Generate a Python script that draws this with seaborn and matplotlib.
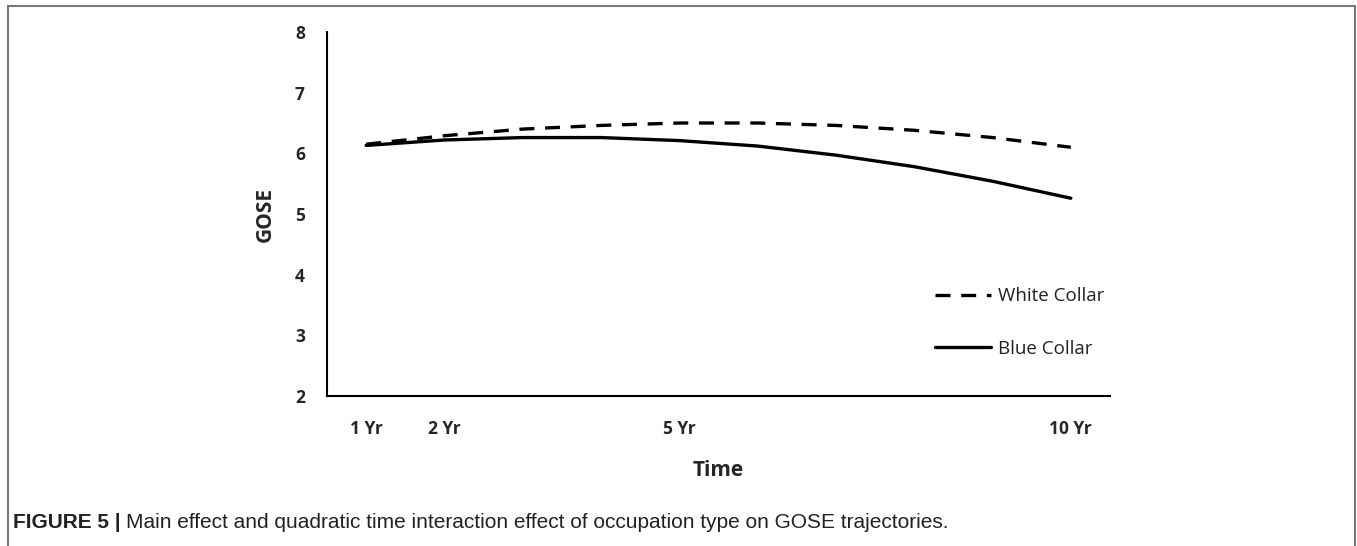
import numpy as np
import pandas as pd
import matplotlib
matplotlib.use("Agg")
import matplotlib.pyplot as plt
from matplotlib.patches import Rectangle
import seaborn as sns

# values
years = [1, 2, 3, 4, 5, 6, 7, 8, 9, 10]
white_collar = [6.15, 6.29, 6.40, 6.46, 6.50, 6.50, 6.46, 6.38, 6.26, 6.10]
blue_collar = [6.13, 6.22, 6.26, 6.26, 6.21, 6.12, 5.97, 5.78, 5.54, 5.26]
tick_years = [1, 2, 5, 10]
tick_labels = ["1 Yr", "2 Yr", "5 Yr", "10 Yr"]
groups = ["White Collar", "Blue Collar"]
caption_head = "FIGURE 5 |"
caption_body = "Main effect and quadratic time interaction effect of occupation type on GOSE trajectories."


def main():
    df = pd.DataFrame({
        "Time": years * 2,
        "GOSE": white_collar + blue_collar,
        "Group": [groups[0]] * len(years) + [groups[1]] * len(years),
    })

    sns.set_theme(style="white")
    plt.rcParams["font.family"] = ["Open Sans", "DejaVu Sans"]

    fig = plt.figure(figsize=(13.57, 5.46), dpi=100)
    ax = fig.add_axes([327 / 1357, 1 - 396 / 546, (1110 - 327) / 1357, (396 - 32) / 546])

    sns.lineplot(data=df, x="Time", y="GOSE", hue="Group", style="Group",
                 palette={groups[0]: "black", groups[1]: "black"},
                 dashes={groups[0]: (4.5, 3.2), groups[1]: ""},
                 linewidth=2.4, ax=ax, legend=True)

    ax.set_xlim(0.5, 10.5)
    ax.set_ylim(2, 8)
    ax.set_xticks(tick_years)
    ax.set_xticklabels(tick_labels, fontsize=12.5, fontweight="bold")
    ax.set_yticks(range(2, 9))
    ax.set_yticklabels([str(v) for v in range(2, 9)], fontsize=12.5, fontweight="bold")
    ax.tick_params(axis="both", length=0)
    ax.tick_params(axis="x", pad=17)
    ax.tick_params(axis="y", pad=16)
    ax.set_xlabel("Time", fontsize=15, fontweight="bold", labelpad=16)
    ax.set_ylabel("GOSE", fontsize=15, fontweight="bold", labelpad=14)

    for side in ["top", "right"]:
        ax.spines[side].set_visible(False)
    for side in ["left", "bottom"]:
        ax.spines[side].set_color("black")
        ax.spines[side].set_linewidth(1.5)

    leg = ax.legend(loc="upper left", bbox_to_anchor=(0.755, 0.345), frameon=False,
                    fontsize=13.5, handlelength=3.0, labelspacing=1.85, handletextpad=0.35,
                    labelcolor="#222222")
    for line in leg.get_lines():
        line.set_linewidth(2.4)

    # caption: bold head, regular body right after it
    cap_y = 1 - 522 / 546
    head = fig.text(13 / 1357, cap_y, caption_head, fontsize=15, fontweight="bold",
                    family=["Liberation Sans", "DejaVu Sans"], va="center", color="#222222")
    renderer = fig.canvas.get_renderer()
    bb = head.get_window_extent(renderer=renderer)
    fig.text((bb.x1 + 5) / 1357, cap_y, caption_body, fontsize=15,
             family=["Liberation Sans", "DejaVu Sans"], va="center", color="#222222")

    # outer frame around the figure panel
    fig.add_artist(Rectangle((7.5 / 1357, -0.05), (1355 - 7.5) / 1357, 1.05 - 6 / 546,
                             transform=fig.transFigure, fill=False, edgecolor="#777777", linewidth=1.5))

    fig.savefig("out.png", dpi=100)


if __name__ == "__main__":
    main()
